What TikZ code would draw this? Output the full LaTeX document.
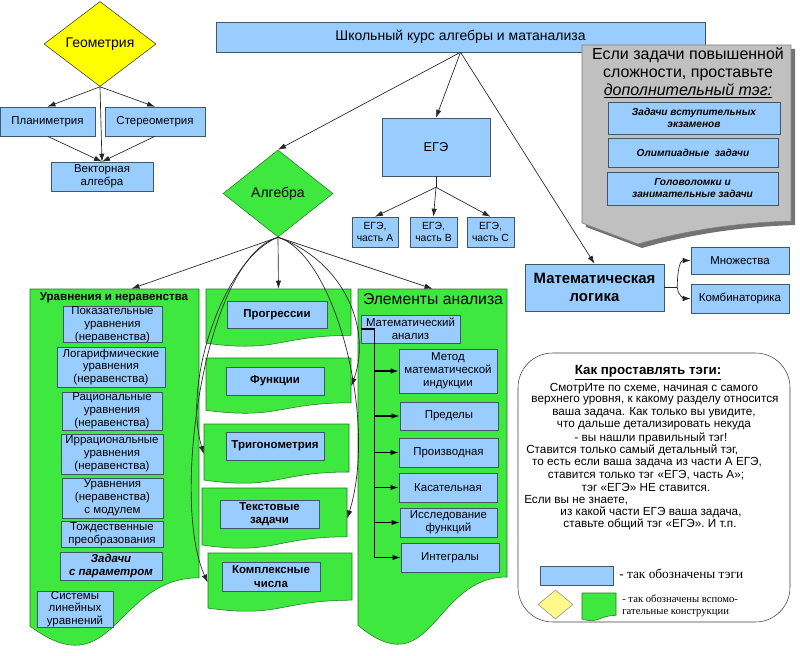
\documentclass[tikz,border=0pt]{standalone}
\usepackage{fontspec}
\setmainfont{Liberation Sans}
\newfontfamily\legendfont{Liberation Serif}
\usetikzlibrary{calc,positioning,shapes.geometric,fit,arrows.meta,shadows}
\tikzset{>={Latex[length=6pt,width=4pt]}}
\definecolor{tagblue}{HTML}{99CCFF}
\definecolor{tagline}{HTML}{3E5868}
\definecolor{auxgreen}{HTML}{3FE83F}
\definecolor{auxline}{HTML}{1E7A1E}
\definecolor{noteback}{HTML}{C0C0C0}
\definecolor{yellowdia}{HTML}{FFFF00}
\tikzset{
  sz/.style 2 args={minimum width=#1*0.75pt, minimum height=#2*0.75pt},
  tag/.style={draw=tagline, fill=tagblue, inner sep=0pt, align=center,
    font=\fontsize{8.6}{9.6}\selectfont},
  btag/.style={tag, font=\fontsize{8.6}{10}\selectfont\bfseries},
  itag/.style={tag, font=\fontsize{7.6}{9}\selectfont\bfseries\itshape},
  dia/.style={diamond, draw=black!80, inner sep=0pt, font=\fontsize{10.5}{12}\selectfont},
  aux/.style={draw=auxline, fill=auxgreen},
  arr/.style={->, black!85, line width=0.5pt},
  tree/.style={black, line width=1pt},
  note/.style={draw=black!50, fill=noteback},
}
% green "document" panel: name, left, top, right, height
\newcommand\docpanel[5]{%
  \draw[aux] (#2,#3) -- (#4,#3) -- (#4,#3+0.8*#5)
    .. controls ({(#2+#4)/2},#3+0.8*#5) and ({(#2+#4)/2},#3+1.107*#5) .. (#2,#3+0.934*#5) -- cycle;
  \node[fit={(#2,#3) (#4,#3+#5)}, inner sep=0pt] (#1) {};
}
\begin{document}
\begin{tikzpicture}[x=0.75pt,y=-0.75pt]
\useasboundingbox[fill=white] (0,0) rectangle (800,656);

% geometry
\node[dia, fill=yellowdia, sz={112}{85}] (geo) at (100,44) {Геометрия};
\node[tag, sz={95}{29}] (plan) at (47.5,121.5) {Планиметрия};
\node[tag, sz={100}{29}] (ster) at (155,121.5) {Стереометрия};
\node[tag, sz={102}{29}] (vect) at (102,176.5) {Векторная\\алгебра};
\draw[arr] (geo.south) -- (plan.north);
\draw[arr] (geo.south) -- (ster.north);
\draw[arr] (geo.south) -- (vect.north);
\draw[arr] (plan.south) -- (vect.north);
\draw[arr] (ster.south) -- (vect.north);

% top of the scheme
\node[tag, sz={489}{30}, font=\fontsize{10.5}{12}\selectfont] (top) at (460.5,37) {Школьный курс алгебры и матанализа};

% note on extra tags
\draw[note, drop shadow={shadow xshift=3pt, shadow yshift=-3pt, fill=black!55, opacity=1}]
  (582,45) -- (791,45) -- (791,221) .. controls (730,223) and (680,232) .. (638,244) -- (582,223) -- cycle;
\node[align=center, font=\fontsize{12}{13.5}\selectfont] (notetitle) at (688,73)
  {Если задачи повышенной\\сложности, проставьте\\\underline{\textit{дополнительный тэг:}}};
\node[itag, sz={172}{32}] (entr) at (694,118) {Задачи вступительных\\экзаменов};
\node[itag, sz={170}{29}] (olym) at (693,152.5) {Олимпиадные\ \ задачи};
\node[itag, sz={171}{33}] (puzz) at (692.5,188.5) {Головоломки и\\занимательные задачи};

% EGE
\node[tag, sz={108}{58}, font=\fontsize{9.6}{11}\selectfont] (ege) at (436,147) {ЕГЭ};
\node[tag, sz={46}{30}, font=\fontsize{7.8}{9}\selectfont] (egea) at (375,232) {ЕГЭ,\\часть А};
\node[tag, sz={47}{30}, font=\fontsize{7.8}{9}\selectfont] (egeb) at (433.5,232) {ЕГЭ,\\часть В};
\node[tag, sz={47}{30}, font=\fontsize{7.8}{9}\selectfont] (egec) at (490.5,232) {ЕГЭ,\\часть С};
\draw[arr, -] (ege.south) -- ++(0,11) coordinate (egefork);
\draw[arr] (egefork) -- (egea.north);
\draw[arr] (egefork) -- (egeb.north);
\draw[arr] (egefork) -- (egec.north);

% algebra
\node[dia, fill=auxgreen, draw=auxline, sz={110}{87}] (alg) at (278,193.5) {Алгебра};

% mathematical logic
\node[btag, sz={139}{47}, font=\fontsize{11.2}{13}\selectfont\bfseries] (logic) at (594.5,287.5) {Математическая\\логика};
\node[tag, sz={98}{27}] (sets) at (740,260.5) {Множества};
\node[tag, sz={98}{29}] (comb) at (740,298.5) {Комбинаторика};
\draw[arr, -] (logic.east) -- ++(13,0) coordinate (logfork);
\draw[arr] (logfork) to[out=90,in=180] (sets.west);
\draw[arr] (logfork) to[out=-90,in=180] (comb.west);

\draw[arr] (top.south) -- (alg.north);
\draw[arr] (top.south) -- (ege.north);
\draw[arr] (top.south) -- (logic.north);

% panels of algebra
\docpanel{eqp}{30}{289}{199}{361}
\docpanel{prog}{206}{289}{351}{58}
\docpanel{func}{206}{358}{351}{56}
\docpanel{trig}{204}{424}{349}{60}
\docpanel{word}{202}{488}{347}{61}
\docpanel{cplx}{208}{553}{352}{59}
\docpanel{anp}{358}{289}{507}{360}

\node[font=\fontsize{8.7}{10}\selectfont\bfseries] (eqtitle) at (114,297.5) {Уравнения и неравенства};
\node[tag, sz={99}{35}] (expo) at (112.5,324.5) {Показательные\\уравнения\\(неравенства)};
\node[tag, sz={108}{40}] (loga) at (111,367) {Логарифмические\\уравнения\\(неравенства)};
\node[tag, sz={100}{38}] (rati) at (112,411) {Рациональные\\уравнения\\(неравенства)};
\node[tag, sz={102}{40}] (irra) at (112,454) {Иррациональные\\уравнения\\(неравенства)};
\node[tag, sz={101}{40}] (modu) at (112.5,498) {Уравнения\\(неравенства)\\с модулем};
\node[tag, sz={102}{26}] (iden) at (112,534) {Тождественные\\преобразования};
\node[tag, sz={102}{28}, font=\fontsize{8.6}{10}\selectfont\bfseries\itshape] (para) at (111,566) {Задачи\\с параметром};
\node[tag, sz={76}{36}] (syst) at (75,609) {Системы\\линейных\\уравнений};

\node[btag, sz={100}{27}] (progb) at (277,314.5) {Прогрессии};
\node[btag, sz={98}{28}] (funcb) at (275,381) {Функции};
\node[btag, sz={98}{28}] (trigb) at (275,446) {Тригонометрия};
\node[btag, sz={99}{28}] (wordb) at (269.5,514) {Текстовые\\задачи};
\node[btag, sz={98}{29}] (cplxb) at (271,576.5) {Комплексные\\числа};

\node[font=\fontsize{11.8}{13}\selectfont] (antitle) at (433,299) {Элементы анализа};
\node[tag, sz={99}{28}] (manal) at (410.5,329) {Математический\\анализ};
\node[tag, sz={98}{44}] (induc) at (448,371) {Метод\\математической\\индукции};
\node[tag, sz={98}{28}] (limi) at (449,416) {Пределы};
\node[tag, sz={99}{29}] (deri) at (448.5,452.5) {Производная};
\node[tag, sz={98}{29}] (tang) at (448,487.5) {Касательная};
\node[tag, sz={97}{29}] (inve) at (448.5,522.5) {Исследование\\функций};
\node[tag, sz={98}{29}] (inte) at (450,557.5) {Интегралы};
\draw[tree] (manal.west) -- ++(14,0) coordinate (trunk) -- (trunk |- inte.west);
\foreach \s in {induc,limi,deri,tang,inve,inte}
  \draw[tree, ->] (trunk |- \s.west) -- (\s.west);

% from algebra
\draw[arr] (alg.south) -- ($(eqp.north west)!0.6!(eqp.north east)$);
\draw[arr] (alg.south) -- (prog.north);
\draw[arr] (alg.south) -- (anp.north);
\draw[arr] (alg.south) .. controls (345,262) and (372,330) .. (func.east);
\draw[arr] (alg.south) .. controls (335,255) and (378,420) .. (word.east);
\draw[arr] (alg.south) .. controls (225,258) and (182,380) .. (trig.west);
\draw[arr] (alg.south) .. controls (205,258) and (170,500) .. (cplx.west);

% how to tag
\node[draw=black!75, fill=white, rounded corners=26pt, sz={272}{269}] (howto) at (654,487.5) {};
\node[font=\fontsize{10}{12}\selectfont\bfseries] (howtitle) at (648,373) {\underline{Как проставлять тэги:}};
\foreach \xx/\yy/\aa/\txt in {
  654/389/center/{СмотрИте по схеме, начиная с самого},
  655/401/center/{верхнего уровня, к какому разделу относится},
  654/413/center/{ваша задача. Как только вы увидите,},
  654/426/center/{что дальше детализировать некуда},
  651/438/center/{- вы нашли правильный тэг!},
  526/450/west/{Ставится только самый детальный тэг,},
  647/463/center/{то есть если ваша задача из части А ЕГЭ,},
  646/475/center/{ставится только тэг «ЕГЭ, часть А»;},
  646/487/center/{тэг «ЕГЭ» НЕ ставится.},
  524/500/west/{Если вы не знаете,},
  651/512/center/{из какой части ЕГЭ ваша задача,},
  650/524/center/{ставьте общий тэг «ЕГЭ». И т.п.}}
  \node[anchor=\aa, inner sep=0pt, font=\fontsize{8.8}{10}\selectfont] at (\xx,\yy) {\txt};

% legend
\node[tag, sz={73}{19}] (legtag) at (576.5,575.5) {};
\node[anchor=west, inner sep=0pt, font=\legendfont\fontsize{10}{12}\selectfont] (legtagtxt) at (619,574) {- так обозначены тэги};
\node[dia, fill=yellow!45, draw=black!45, sz={35}{29}] (legdia) at (555.5,604.5) {};
\docpanel{legdoc}{582}{593}{616}{28}
\node[anchor=west, align=left, inner sep=0pt, font=\legendfont\fontsize{8}{9}\selectfont] (legauxtxt) at (622,605.5) {- так обозначены вспомо-\\гательные конструкции};
\end{tikzpicture}
\end{document}
